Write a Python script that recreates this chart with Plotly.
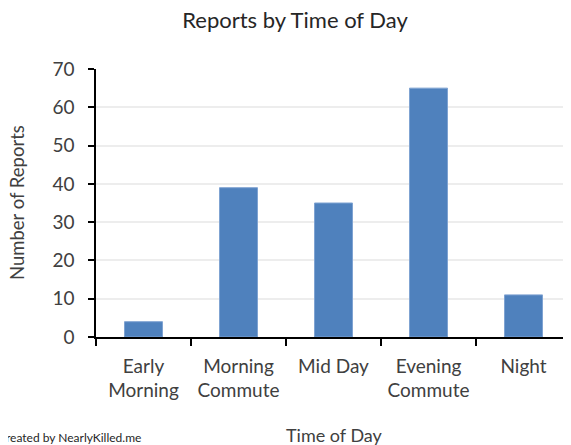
import plotly.graph_objects as go

categories = ["Early<br>Morning", "Morning<br>Commute", "Mid Day", "Evening<br>Commute", "Night"]
reports = [4, 39, 35, 65, 11]
y_ticks = [0, 10, 20, 30, 40, 50, 60, 70]

FONT = "Lato, 'Open Sans', sans-serif"
TXT = "#404040"

# page has an 8px body margin; work in page pixels and convert
OFF = 8
W, H = 571, 445
L, R, T, B = 96 - OFF, OFF, 69 - OFF, H - (337 - OFF)

fig = go.Figure()
fig.add_trace(go.Bar(
    x=categories, y=reports, width=0.4,
    marker=dict(color="#4F81BD", line=dict(color="#7FA3D2", width=1)),
))

def px_x(p):
    return (p - OFF - L) / (W - L - R)

def px_y(p):
    return (H - B - (p - OFF)) / (H - T - B)

fig.update_layout(
    width=W, height=H,
    margin=dict(l=L, r=R, t=T, b=B, autoexpand=False),
    paper_bgcolor="white", plot_bgcolor="white",
    font=dict(family=FONT, color=TXT, size=18),
    showlegend=False,
    title=dict(text="Reports by Time of Day", x=(295 - OFF) / W, xref="container", xanchor="center",
               y=1 - (20 - OFF) / H, yref="container", yanchor="middle",
               font=dict(size=22, color="#262626", family=FONT)),
    xaxis=dict(
        type="category", range=[-0.5, 4.5], automargin=False,
        showline=True, linecolor="black", linewidth=1.5,
        ticks="outside", tickson="boundaries", ticklen=7, tickcolor="black", tickwidth=1.5,
        ticklabelstandoff=11,
        tickfont=dict(size=19, color=TXT),
        showgrid=False,
    ),
    yaxis=dict(
        range=[0, 70], tickvals=y_ticks, automargin=False,
        showline=True, linecolor="black", linewidth=1.5,
        ticks="outside", ticklen=6, tickcolor="black", tickwidth=1.5,
        ticklabelstandoff=10,
        showgrid=True, gridcolor="#EDEDED", gridwidth=1.5,
        zeroline=False,
        tickfont=dict(size=19, color=TXT),
    ),
    annotations=[
        dict(text="Time of Day", xref="paper", yref="paper",
             x=px_x(334), y=px_y(435), xanchor="center", yanchor="middle",
             showarrow=False, font=dict(size=18, color=TXT, family=FONT)),
        dict(text="Number of Reports", xref="paper", yref="paper",
             x=px_x(17), y=px_y(203), xanchor="center", yanchor="middle", textangle=-90,
             showarrow=False, font=dict(size=18.5, color=TXT, family=FONT)),
        dict(text="Created by NearlyKilled.me", xref="paper", yref="paper",
             x=px_x(-4), xanchor="left", y=px_y(437), yanchor="middle",
             showarrow=False, font=dict(size=12, color="#262626", family=FONT)),
    ],
)

fig.write_html("out.html")
